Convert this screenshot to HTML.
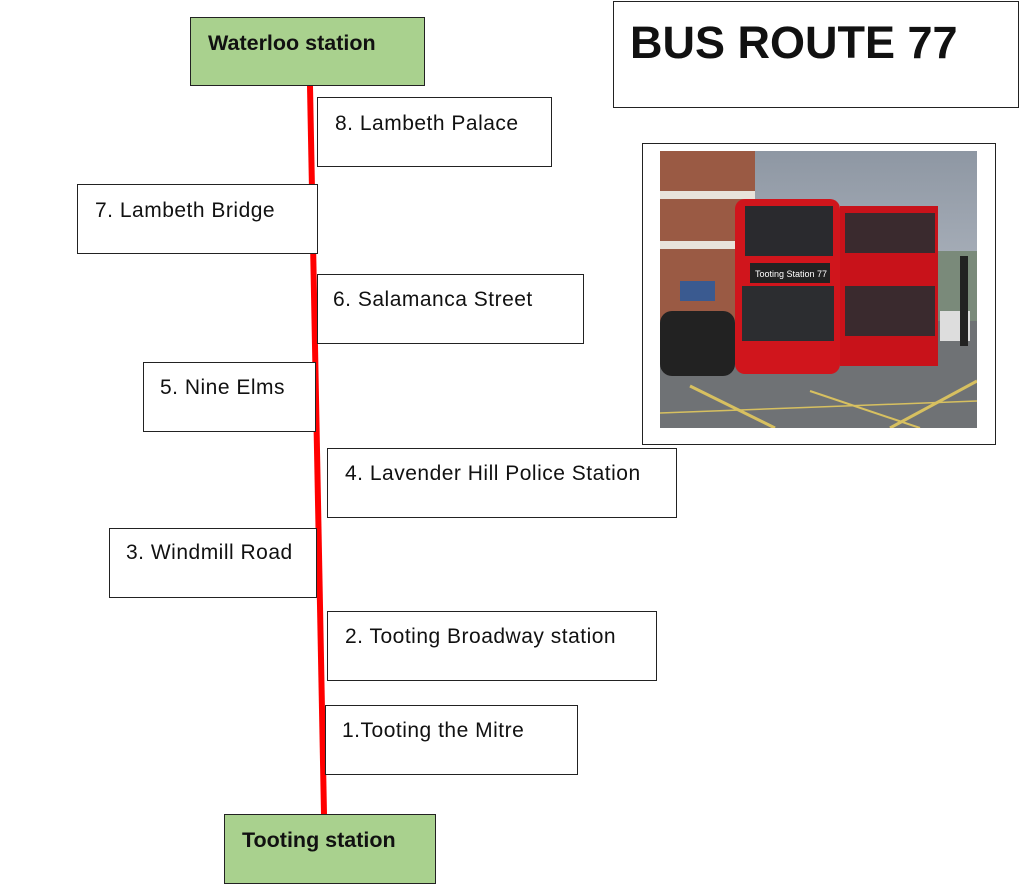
<!DOCTYPE html>
<html><head><meta charset="utf-8"><style>
body{margin:0;width:1024px;height:887px;background:#fff;position:relative;overflow:hidden;font-family:"Liberation Sans",sans-serif;}
.b{position:absolute;box-sizing:border-box;border:1.5px solid #222;background:#fff;}
.t{position:absolute;font-size:21px;letter-spacing:0.5px;color:#111;white-space:nowrap;}
.g{background:#a9d18e;}
.bold{font-weight:bold;font-size:21.5px;letter-spacing:0;}
</style></head><body>
<svg style="position:absolute;left:0;top:0" width="1024" height="887"><line x1="310" y1="86" x2="324" y2="814" stroke="#f00" stroke-width="6"/></svg>

<div class="b g" style="left:190px;top:17px;width:235px;height:69px"></div>
<div class="t bold" style="left:208px;top:31px">Waterloo station</div>

<div class="b" style="left:613px;top:1px;width:406px;height:107px"></div>
<div class="t bold" style="left:630px;top:17px;font-size:45px">BUS ROUTE 77</div>

<div class="b" style="left:317px;top:97px;width:235px;height:70px"></div>
<div class="t" style="left:335px;top:112px">8. Lambeth Palace</div>

<div class="b" style="left:77px;top:184px;width:241px;height:70px"></div>
<div class="t" style="left:95px;top:199px">7. Lambeth Bridge</div>

<div class="b" style="left:317px;top:274px;width:267px;height:70px"></div>
<div class="t" style="left:333px;top:288px">6. Salamanca Street</div>

<div class="b" style="left:143px;top:362px;width:173px;height:70px"></div>
<div class="t" style="left:160px;top:376px">5. Nine Elms</div>

<div class="b" style="left:327px;top:448px;width:350px;height:70px"></div>
<div class="t" style="left:345px;top:462px">4. Lavender Hill Police Station</div>

<div class="b" style="left:109px;top:528px;width:208px;height:70px"></div>
<div class="t" style="left:126px;top:541px">3. Windmill Road</div>

<div class="b" style="left:327px;top:611px;width:330px;height:70px"></div>
<div class="t" style="left:345px;top:625px">2. Tooting Broadway station</div>

<div class="b" style="left:325px;top:705px;width:253px;height:70px"></div>
<div class="t" style="left:342px;top:719px">1.Tooting the Mitre</div>

<div class="b g" style="left:224px;top:814px;width:212px;height:70px"></div>
<div class="t bold" style="left:242px;top:828px">Tooting station</div>

<div class="b" style="left:642px;top:143px;width:354px;height:302px"></div>
<svg style="position:absolute;left:660px;top:151px" width="317" height="277">
<defs><linearGradient id="sky" x1="0" y1="0" x2="0" y2="1"><stop offset="0" stop-color="#8e97a3"/><stop offset="1" stop-color="#c9ced6"/></linearGradient></defs>
<rect width="317" height="277" fill="url(#sky)"/>
<rect x="0" y="0" width="95" height="180" fill="#9a5a44"/>
<rect x="0" y="40" width="95" height="8" fill="#e8e2da"/>
<rect x="0" y="90" width="95" height="8" fill="#e8e2da"/>
<rect x="20" y="130" width="35" height="20" fill="#3a5a90"/>
<rect x="250" y="100" width="67" height="90" fill="#7a8a7a"/>
<rect x="0" y="170" width="317" height="107" fill="#6f7275"/>
<rect x="0" y="160" width="75" height="65" rx="12" fill="#222"/>
<rect x="280" y="160" width="30" height="30" fill="#ddd"/>
<rect x="300" y="105" width="8" height="90" fill="#222"/>
<rect x="75" y="48" width="105" height="175" rx="10" fill="#d0151c"/>
<rect x="180" y="55" width="98" height="160" fill="#c8121a"/>
<rect x="85" y="55" width="88" height="50" fill="#2a2a2e"/>
<rect x="90" y="112" width="80" height="20" fill="#222"/>
<text x="95" y="126" font-size="9" fill="#fff">Tooting Station 77</text>
<rect x="82" y="135" width="92" height="55" fill="#2c2d30"/>
<rect x="185" y="62" width="90" height="40" fill="#3a2a2e"/>
<rect x="185" y="135" width="90" height="50" fill="#3a2a2e"/>
<line x1="30" y1="235" x2="115" y2="277" stroke="#d7c060" stroke-width="3"/>
<line x1="230" y1="277" x2="317" y2="230" stroke="#d7c060" stroke-width="3"/>
<line x1="150" y1="240" x2="260" y2="277" stroke="#d7c060" stroke-width="2"/>
<line x1="0" y1="262" x2="317" y2="250" stroke="#d7c060" stroke-width="1.5"/>
</svg>
</body></html>
